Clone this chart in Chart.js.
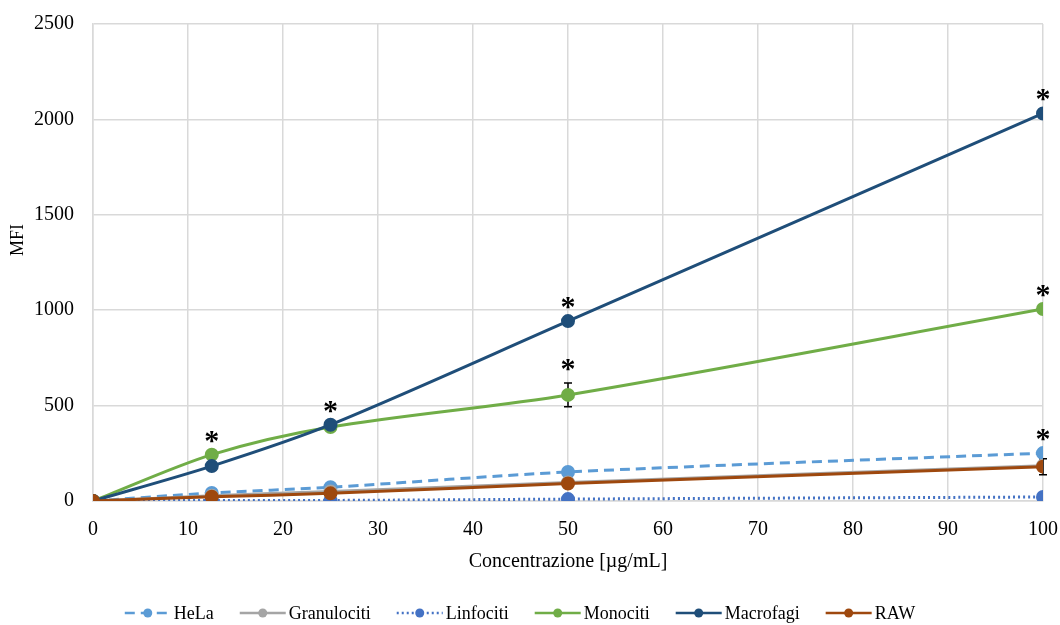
<!DOCTYPE html>
<html>
<head>
<meta charset="utf-8">
<script src="https://cdn.jsdelivr.net/npm/chart.js@4.4.1/dist/chart.umd.min.js"></script>
<style>
  html, body { margin: 0; padding: 0; background: #fff; }
  #wrap { width: 1060px; height: 625px; position: relative; }
</style>
</head>
<body>
<div id="wrap"><canvas id="chart"></canvas></div>
<script>
// ---------- DATI ----------
const concentrazioni = [0, 12.5, 25, 50, 100];
const hela        = [0, 42, 72, 152, 251];
const granulociti = [0, 27, 50, 97, 185];
const linfociti   = [0, 3, 3, 10, 21];
const monociti    = [0, 243, 388, 556, 1006];
const macrofagi   = [0, 183, 400, 943, 2031];
const raw         = [0, 22, 40, 92, 180];

// barre d'errore (deviazione)
const errHela        = [0, 14, 22, 0, 0];
const errGranulociti = [0, 0, 0, 0, 0];
const errLinfociti   = [0, 0, 0, 0, 0];
const errMonociti    = [0, 0, 0, 62, 0];
const errMacrofagi   = [0, 0, 0, 0, 0];
const errRaw         = [0, 0, 0, 0, 42];

// asterischi di significatività: [serie, indice]
const significativi = [
    ['Monociti', 1], ['Macrofagi', 2], ['Macrofagi', 3], ['Monociti', 3],
    ['Macrofagi', 4], ['Monociti', 4], ['HeLa', 4]
];

const yTicks = [0, 500, 1000, 1500, 2000, 2500];
const FONT = "'Liberation Serif', 'Times New Roman', serif";

function serie(label, values, errs, color, dash, order) {
    return {
        label: label,
        data: concentrazioni.map((c, i) => ({ x: c, y: values[i] })),
        errors: errs,
        borderColor: color,
        backgroundColor: color,
        pointBackgroundColor: color,
        pointBorderColor: color,
        borderWidth: 3,
        borderDash: dash,
        pointRadius: 5.5,
        pointHoverRadius: 5.5,
        tension: 0.3,
        fill: false,
        order: order
    };
}

// ---------- PLUGIN: barre d'errore ----------
const errorBars = {
    id: 'errorBars',
    beforeDatasetsDraw(chart) {
        const ctx = chart.ctx;
        const y = chart.scales.y;
        ctx.save();
        ctx.strokeStyle = '#000';
        ctx.lineWidth = 1.5;
        chart.data.datasets.forEach((ds, di) => {
            const meta = chart.getDatasetMeta(di);
            ds.errors.forEach((e, i) => {
                if (!e) return;
                const px = meta.data[i].x;
                const v = ds.data[i].y;
                const top = y.getPixelForValue(v + e);
                const bot = y.getPixelForValue(v - e);
                ctx.beginPath();
                ctx.moveTo(px, top); ctx.lineTo(px, bot);
                ctx.moveTo(px - 4, top); ctx.lineTo(px + 4, top);
                ctx.moveTo(px - 4, bot); ctx.lineTo(px + 4, bot);
                ctx.stroke();
            });
        });
        ctx.restore();
    }
};

// ---------- PLUGIN: asterischi, titolo asse Y, legenda ----------
const extras = {
    id: 'extras',
    afterDraw(chart) {
        const ctx = chart.ctx;
        const y = chart.scales.y;
        ctx.save();
        // asterischi
        ctx.fillStyle = '#000';
        ctx.font = 'bold 30px ' + FONT;
        ctx.textAlign = 'center';
        ctx.textBaseline = 'alphabetic';
        significativi.forEach(([nome, i]) => {
            const di = chart.data.datasets.findIndex(d => d.label === nome);
            const ds = chart.data.datasets[di];
            const pt = chart.getDatasetMeta(di).data[i];
            const topVal = ds.data[i].y + (ds.errors[i] || 0);
            const py = y.getPixelForValue(topVal);
            ctx.fillText('*', pt.x, py - 5);
        });

        // titolo asse Y
        ctx.save();
        ctx.font = '18px ' + FONT;
        ctx.textBaseline = 'middle';
        ctx.translate(18, 240);
        ctx.rotate(-Math.PI / 2);
        ctx.fillText('MFI', 0, 0);
        ctx.restore();

        // legenda personalizzata (linea + marker)
        ctx.font = '18px ' + FONT;
        ctx.textBaseline = 'middle';
        ctx.textAlign = 'left';
        const lineLen = 46, gap = 3, spacing = 26;
        const items = chart.data.datasets.map(ds => ({
            ds: ds, w: lineLen + gap + ctx.measureText(ds.label).width
        }));
        const total = items.reduce((s, it) => s + it.w, 0) + spacing * (items.length - 1);
        let x = 520 - total / 2;
        const ly = 613;
        items.forEach(it => {
            const ds = it.ds;
            ctx.strokeStyle = ds.borderColor;
            ctx.lineWidth = 2.5;
            ctx.setLineDash(ds.borderDash || []);
            ctx.beginPath();
            ctx.moveTo(x, ly); ctx.lineTo(x + lineLen, ly);
            ctx.stroke();
            ctx.setLineDash([]);
            ctx.fillStyle = ds.borderColor;
            ctx.beginPath();
            ctx.arc(x + lineLen / 2, ly, 4.5, 0, Math.PI * 2);
            ctx.fill();
            ctx.fillStyle = '#000';
            ctx.fillText(ds.label, x + lineLen + gap, ly + 1);
            x += it.w + spacing;
        });
        ctx.restore();
    }
};

// ---------- GRAFICO ----------
const ctx = document.getElementById('chart');
new Chart(ctx, {
    type: 'line',
    data: {
        datasets: [
            serie('HeLa', hela, errHela, '#5B9BD5', [10, 6], 5),
            serie('Granulociti', granulociti, errGranulociti, '#A5A5A5', [], 4),
            serie('Linfociti', linfociti, errLinfociti, '#4472C4', [2, 3], 3),
            serie('Monociti', monociti, errMonociti, '#70AD47', [], 2),
            serie('Macrofagi', macrofagi, errMacrofagi, '#1F4E79', [], 1),
            serie('RAW', raw, errRaw, '#9E480E', [], 0)
        ]
    },
    options: {
        responsive: true,
        maintainAspectRatio: false,
        animation: false,
        layout: { padding: { top: 24, right: 17, bottom: 47, left: 0 } },
        plugins: {
            legend: { display: false },
            tooltip: { enabled: false }
        },
        scales: {
            x: {
                type: 'linear',
                min: 0, max: 100,
                ticks: { stepSize: 10, padding: 17, color: '#000', font: { family: FONT, size: 20 },
                         callback: v => String(v) },
                grid: { color: '#D9D9D9', lineWidth: 1.5, drawTicks: false },
                border: { color: '#D9D9D9', width: 1.5 },
                title: { display: true, text: 'Concentrazione [µg/mL]', color: '#000', font: { family: FONT, size: 20 } },
                afterFit(scale) {
                    scale.height = 77;
                    scale.paddingLeft = 0;
                    scale.paddingRight = 0;
                }
            },
            y: {
                min: 0, max: 2500,
                afterBuildTicks(scale) { scale.ticks = yTicks.map(v => ({ value: v })); },
                ticks: { padding: 19, color: '#000', font: { family: FONT, size: 20 },
                         callback: v => String(v) },
                grid: { color: '#D9D9D9', lineWidth: 1.5, drawTicks: false },
                border: { color: '#D9D9D9', width: 1.5 },
                title: { display: false },
                afterFit(scale) {
                    scale.width = 93;
                    scale.paddingTop = 0;
                    scale.paddingBottom = 0;
                }
            }
        }
    },
    plugins: [errorBars, extras]
});
</script>
</body>
</html>
